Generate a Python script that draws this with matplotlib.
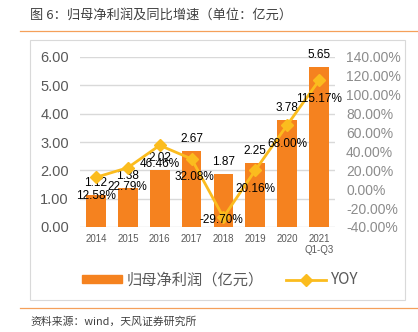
import numpy as np
import matplotlib
matplotlib.use("Agg")
import matplotlib.pyplot as plt
from matplotlib.lines import Line2D
from matplotlib.patches import Rectangle, Patch

plt.rcParams['font.family'] = ['Liberation Sans', 'Noto Sans CJK SC', 'DejaVu Sans']

# data
years = ['2014', '2015', '2016', '2017', '2018', '2019', '2020', '2021\nQ1-Q3']
profit = [1.12, 1.38, 2.02, 2.67, 1.87, 2.25, 3.78, 5.65]
yoy = [12.58, 22.79, 46.46, 32.08, -29.70, 20.16, 68.00, 115.17]

bar_c = '#F5821F'
line_c = '#FBBC1E'
grey = '#595959'

fig = plt.figure(figsize=(4.18, 3.32), dpi=100)

# chart frame and rules
fig.patches.append(Rectangle((30/418, 1-300/332), 375/418, 260/332, transform=fig.transFigure,
                             fill=False, ec='#D9D9D9', lw=0.8))
fig.add_artist(Line2D([20/418, 1], [1-31/332]*2, color='#F5A05A', lw=0.9))
fig.add_artist(Line2D([20/418, 1], [1-308/332]*2, color='#F5A05A', lw=0.9))
fig.text(30/418, 1-15/332, '图 6：归母净利润及同比增速（单位：亿元）', fontsize=9.5,
         color='#404040', va='center', family=['Noto Sans CJK SC'])
fig.text(30/418, 1-322/332, '资料来源：wind，天风证券研究所', fontsize=7.8,
         color='#404040', va='center', family=['Noto Sans CJK SC'])

ax = fig.add_axes([80/418, 1-227/332, 255/418, 170/332])
x = np.arange(len(years))
bars = ax.bar(x, profit, width=0.62, color=bar_c, zorder=2)
ax.set_ylim(0, 6)
ax.set_xlim(-0.5, len(years)-0.5)
ax.set_yticks(np.arange(0, 7, 1))
ax.set_yticklabels(['%.2f' % v for v in np.arange(0, 7, 1)], fontsize=10.5, color=grey)
ax.set_xticks(x)
ax.set_xticklabels(years, fontsize=7, color=grey, linespacing=1.1)
ax.tick_params(length=0, pad=8)
ax.tick_params(axis='x', pad=5)
ax.grid(axis='y', color='#D9D9D9', lw=1, zorder=0)
for s in ax.spines.values():
    s.set_visible(False)
for xi, v in zip(x, profit):
    ax.annotate('%.2f' % v, (xi, v), xytext=(0, 12), textcoords='offset points'
                if False else 'offset pixels', ha='center', va='center', fontsize=8.5, color='black')

ax2 = ax.twinx()
ax2.plot(x, yoy, color=line_c, lw=2, marker='D', ms=6, zorder=3)
ax2.set_ylim(-40, 140)
ax2.set_yticks(np.arange(-40, 141, 20))
ax2.set_yticklabels(['%.2f%%' % v for v in np.arange(-40, 141, 20)], fontsize=10, color='#8C8C8C')
ax2.tick_params(length=0, pad=8)
for s in ax2.spines.values():
    s.set_visible(False)
offs = [(0, -19), (0, -19), (0, -19), (3, -18), (-2, -3), (0, -19), (0, -19), (0, -19)]
for xi, v, o in zip(x, yoy, offs):
    ax2.annotate('%.2f%%' % v, (xi, v), xytext=o, textcoords='offset pixels',
                 ha='center', va='center', fontsize=8.5, color='black')

handles = [Patch(color=bar_c), Line2D([], [], color=line_c, lw=2, marker='D', ms=6)]
fig.legend(handles, ['归母净利润（亿元）', 'YOY'], loc='center', bbox_to_anchor=(220/418, 1-280/332),
           ncol=2, frameon=False, fontsize=11, labelcolor=grey, handlelength=2.6,
           handleheight=0.5, columnspacing=1.5, handletextpad=0.3,
           prop={'family': ['Noto Sans CJK SC'], 'size': 11})

fig.savefig('out.png', dpi=100)
